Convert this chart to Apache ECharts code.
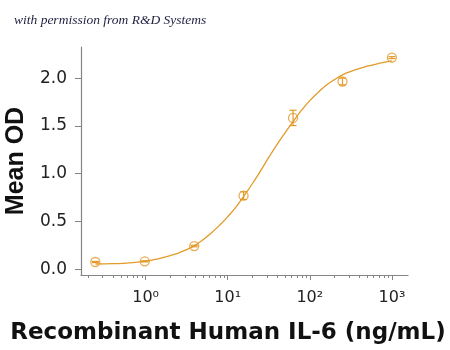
<!DOCTYPE html>
<html><head><meta charset="utf-8">
<script src="https://cdn.jsdelivr.net/npm/echarts@6/dist/echarts.min.js"></script>
<style>html,body{margin:0;padding:0;background:#fff}#c{width:450px;height:350px}</style>
</head><body><div id="c"></div>
<script>
// Measured points (ng/mL) with mean OD and SD
const concentrations = [0.244, 0.977, 3.91, 15.6, 62.5, 250, 1000];
const meanOD = [0.076, 0.083, 0.243, 0.77, 1.584, 1.965, 2.215];
const sdOD = [0.006, 0.006, 0.008, 0.04, 0.08, 0.035, 0.01];
// Fitted curve (log10 of concentration, OD)
const fitLogConc = [-0.61, -0.4, -0.2, 0.0, 0.1, 0.2, 0.3, 0.4, 0.5, 0.6, 0.7, 0.8, 0.9, 1.0, 1.1, 1.2, 1.3, 1.4, 1.5, 1.6, 1.7, 1.8, 1.9, 2.0, 2.1, 2.2, 2.3, 2.4, 2.5, 2.6, 2.7, 2.8, 2.9, 3.0];
const fitOD = [0.055, 0.058, 0.066, 0.085, 0.100, 0.120, 0.143, 0.170, 0.205, 0.250, 0.310, 0.380, 0.460, 0.550, 0.650, 0.770, 0.895, 1.030, 1.170, 1.305, 1.430, 1.550, 1.665, 1.765, 1.850, 1.925, 1.985, 2.035, 2.070, 2.100, 2.125, 2.145, 2.165, 2.180];
// Axis ticks
const decadeExponents = [0, 1, 2, 3];
const decadeLabels = ['10\u2070', '10\u00B9', '10\u00B2', '10\u00B3'];
const yTicks = [0, 0.5, 1, 1.5, 2];
const yTickLabels = ['0.0', '0.5', '1.0', '1.5', '2.0'];
const xTitle = 'Recombinant Human IL-6 (ng/mL)';
const yTitle = 'Mean OD';
const credit = 'with permission from R&D Systems';

const ORANGE = '#E39A2A';
const AXIS = '#858585';
const xMin = -0.787, xMax = 3.196;
const yMin = -0.06, yMax = 2.326;

const minorTicks = [];
for (let n = -1; n <= 3; n++) for (let k = 2; k <= 9; k++) {
  const v = Math.log10(k * Math.pow(10, n));
  if (v > xMin && v < xMax) minorTicks.push(v);
}

const chart = echarts.init(document.getElementById('c'), null, {renderer: 'canvas'});
chart.setOption({
  animation: false,
  backgroundColor: '#fff',
  title: {
    text: credit, left: 9, top: 8,
    textStyle: {fontFamily: 'Liberation Serif', fontStyle: 'italic', fontWeight: 'normal', fontSize: 13.5, color: '#1e2040'}
  },
  grid: {left: 81, right: 42, top: 47, bottom: 75, containLabel: false, outerBoundsMode: 'none'},
  xAxis: [{
    type: 'value', min: xMin, max: xMax, position: 'bottom',
    name: xTitle, nameLocation: 'middle', nameGap: 47,
    nameTextStyle: {fontFamily: 'DejaVu Sans', fontWeight: 'bold', fontSize: 23, color: '#111', padding: [0, 33, 0, 0]},
    splitLine: {show: false},
    axisLine: {onZero: false, lineStyle: {color: AXIS, width: 1.2}},
    axisTick: {show: true, length: 5, lineStyle: {color: AXIS}, customValues: decadeExponents},
    axisLabel: {
      customValues: decadeExponents, margin: 15,
      fontFamily: 'DejaVu Sans', fontSize: 16, color: '#222',
      formatter: v => decadeLabels[decadeExponents.indexOf(Math.round(v))]
    }
  }, {
    type: 'value', min: xMin, max: xMax, position: 'bottom',
    splitLine: {show: false},
    axisLine: {show: false, onZero: false},
    axisTick: {show: true, length: 3, lineStyle: {color: AXIS}, customValues: minorTicks},
    axisLabel: {show: false}
  }],
  yAxis: {
    type: 'value', min: yMin, max: yMax, position: 'left',
    name: yTitle, nameLocation: 'middle', nameRotate: 90, nameGap: 44,
    nameTextStyle: {fontFamily: 'Liberation Sans', fontWeight: 'bold', fontSize: 25, color: '#111'},
    splitLine: {show: false},
    axisLine: {show: true, onZero: false, lineStyle: {color: AXIS, width: 1.2}},
    axisTick: {show: true, length: 6, lineStyle: {color: AXIS}, customValues: yTicks},
    axisLabel: {
      customValues: yTicks, margin: 14,
      fontFamily: 'DejaVu Sans', fontSize: 17, color: '#222',
      formatter: v => yTickLabels[yTicks.indexOf(Math.round(v * 2) / 2)]
    }
  },
  series: [{
    type: 'line', xAxisIndex: 0, smooth: true, showSymbol: false,
    data: fitLogConc.map((l, i) => [l, fitOD[i]]),
    lineStyle: {color: ORANGE, width: 1.3}, z: 2
  }, {
    type: 'custom', xAxisIndex: 0, z: 3,
    data: concentrations.map((c, i) => [Math.log10(c), meanOD[i] - sdOD[i], meanOD[i] + sdOD[i]]),
    encode: {x: 0, y: [1, 2]},
    renderItem: function (params, api) {
      const x = api.value(0);
      const lo = api.coord([x, api.value(1)]);
      const hi = api.coord([x, api.value(2)]);
      const w = 3.5;
      const st = {stroke: ORANGE, lineWidth: 1.2, fill: null};
      return {type: 'group', children: [
        {type: 'line', shape: {x1: lo[0], y1: lo[1], x2: hi[0], y2: hi[1]}, style: st},
        {type: 'line', shape: {x1: lo[0] - w, y1: lo[1], x2: lo[0] + w, y2: lo[1]}, style: st},
        {type: 'line', shape: {x1: hi[0] - w, y1: hi[1], x2: hi[0] + w, y2: hi[1]}, style: st}
      ]};
    }
  }, {
    type: 'scatter', xAxisIndex: 0, z: 4,
    data: concentrations.map((c, i) => [Math.log10(c), meanOD[i]]),
    symbol: 'circle', symbolSize: 9,
    itemStyle: {color: 'rgba(255,255,255,0)', borderColor: ORANGE, borderWidth: 1.3}
  }]
});
</script></body></html>
